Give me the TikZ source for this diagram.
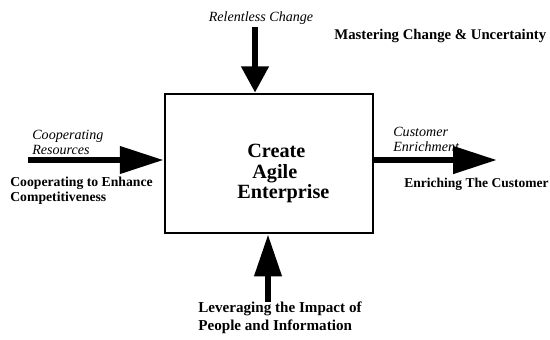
\documentclass[tikz,border=0pt]{standalone}
\usepackage{fontspec}
\setmainfont{Liberation Serif}
\usetikzlibrary{arrows.meta}
\tikzset{
  flow/.style={line width=3.6pt, -{Triangle[length=#1, width=15pt]}},
  flow/.default=15pt,
  inlabel/.style={font=\fontsize{8}{8.5}\selectfont\itshape, align=left, inner sep=0pt},
  outlabel/.style={font=\fontsize{#1}{8.5}\selectfont\bfseries, align=left, inner sep=0pt},
  outlabel/.default=8.2,
  titleline/.style={font=\fontsize{11.5}{12}\selectfont\bfseries, inner sep=0pt, anchor=base west},
}
\begin{document}
\begin{tikzpicture}[x=0.02cm, y=-0.02cm]
		%%%%% START %%%%%
		\useasboundingbox (0, 0) rectangle (550, 339);
		
		\node[draw, line width=1.5pt, minimum width=208*0.02cm, minimum height=139*0.02cm] (box) at (269, 163.5) {};
		\node[titleline] (create) at (247, 157) {Create};
		\node[titleline] (agile) at (252, 178) {Agile};
		\node[titleline] (enterprise) at (237, 198) {Enterprise};
		
		\coordinate (ctrl) at (255, 27);
		\coordinate (inp) at (28, 160);
		\coordinate (outp) at (497, 160);
		\coordinate (mech) at (268, 302);
		
		\draw[flow=15pt] (ctrl) -- (ctrl |- box.north);
		\draw[flow=25pt] (inp) -- (box.west |- inp);
		\draw[flow=25pt] (box.east |- outp) -- (outp);
		\draw[flow=24pt] (mech) -- (mech |- box.south);
		
		\node[inlabel, anchor=center] (change) at (261, 18) {Relentless Change};
		\node[outlabel=8.4, anchor=west] (master) at (334, 36) {Mastering Change \& Uncertainty};
		
		\node[inlabel, anchor=west] (coop) at (32, 142) {Cooperating\\Resources};
		\node[outlabel=7.8, anchor=west] (enhance) at (10, 191) {Cooperating to Enhance\\Competitiveness};
		
		\node[inlabel, anchor=west] (cust) at (393, 139) {Customer\\Enrichment};
		\node[outlabel=7.7, anchor=west] (enrich) at (404, 184) {Enriching The Customer};
		
		\node[outlabel=8.6, anchor=west] (lever) at (198, 318) {Leveraging the Impact of\\[2pt]People and Information};
		%%%%% END %%%%%
	\end{tikzpicture}
\end{document}
